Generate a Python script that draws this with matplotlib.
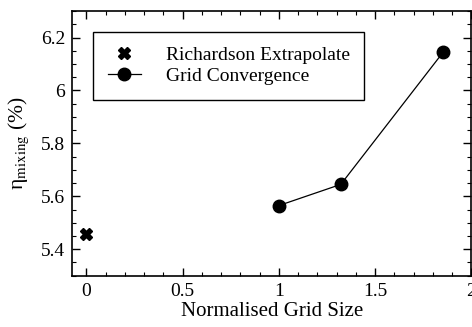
import numpy as np
import matplotlib
matplotlib.use('Agg')
from matplotlib import pyplot as plt
from matplotlib.ticker import MultipleLocator

plt.rcParams['font.family'] = ['Liberation Serif', 'DejaVu Serif']
plt.rcParams['mathtext.fontset'] = 'stix'

# data
rich_x = [0.0]
rich_y = [5.457]
grid_x = [1.0, 1.322, 1.854]
grid_y = [5.565, 5.645, 6.145]

fig = plt.figure(figsize=(4.72, 3.27), dpi=100)
ax = fig.add_axes([0.1525, 0.157, 0.846, 0.809])

ax.plot(rich_x, rich_y, 'X', color='black', markersize=9, linestyle='none',
        label='Richardson Extrapolate')
ax.plot(grid_x, grid_y, 'o-', color='black', markersize=9, linewidth=0.9,
        label='Grid Convergence')

ax.set_xlim(-0.075, 2.0)
ax.set_ylim(5.3, 6.3)
ax.xaxis.set_minor_locator(MultipleLocator(0.1))
ax.yaxis.set_minor_locator(MultipleLocator(0.05))
ax.set_xticks([0, 0.5, 1, 1.5, 2])
ax.set_xticklabels(['0', '0.5', '1', '1.5', '2'])
ax.set_yticks([5.4, 5.6, 5.8, 6.0, 6.2])
ax.set_yticklabels(['5.4', '5.6', '5.8', '6', '6.2'])
ax.tick_params(which='both', direction='in', top=True, right=True, labelsize=14)
ax.tick_params(which='major', length=6, width=1, pad=5)
ax.tick_params(which='minor', length=3, width=0.8)
for s in ax.spines.values():
    s.set_linewidth(1.2)

ax.set_xlabel('Normalised Grid Size', fontsize=15, labelpad=2)
ax.set_ylabel('\u03b7$_{\\mathrm{mixing}}$ (%)', fontsize=15.5, labelpad=7)

leg = ax.legend(loc='upper left', bbox_to_anchor=(0.0525, 0.921), borderaxespad=0,
                fontsize=14, fancybox=False, edgecolor='black', framealpha=1,
                handlelength=1.7, handletextpad=1.3, labelspacing=0.16,
                borderpad=0.75)
leg.get_frame().set_linewidth(1.0)

plt.savefig('out.png', dpi=100)
